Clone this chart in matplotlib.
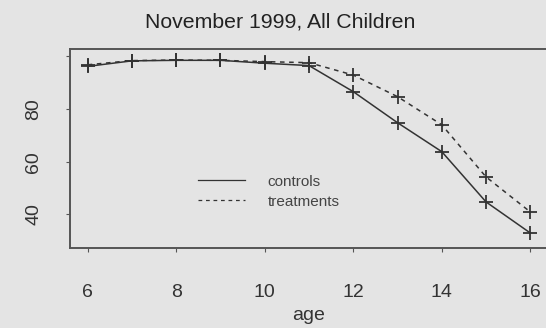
import numpy as np
import matplotlib
matplotlib.use("Agg")
import matplotlib.pyplot as plt

age = [6, 7, 8, 9, 10, 11, 12, 13, 14, 15, 16]
controls = [96.2, 98.3, 98.5, 98.5, 97.4, 96.5, 86.6, 74.8, 63.8, 44.7, 32.9]
treatments = [96.8, 98.4, 98.6, 98.5, 98.0, 97.6, 92.9, 84.7, 74.0, 54.2, 40.9]

xticks = [6, 8, 10, 12, 14, 16]
yticks = [40, 60, 80, 100]
ylabels = ["40", "60", "80", ""]

bg = "#e4e4e4"
ink = "#333333"

plt.rcParams["font.family"] = ["Liberation Sans", "DejaVu Sans"]

fig = plt.figure(figsize=(5.46, 3.28), dpi=100, facecolor=bg)
ax = fig.add_axes([70 / 546, 1 - 248 / 328, 478 / 546, 199 / 328])
ax.set_facecolor(bg)

ax.plot(age, controls, color=ink, lw=1.1, ls="-", marker="+", ms=10, mew=1.3,
        label="controls")
ax.plot(age, treatments, color=ink, lw=1.1, ls=(0, (3, 3)), marker="+", ms=10, mew=1.3,
        label="treatments")

ax.set_xlim(5.6, 16.4)
ax.set_ylim(27.2, 102.8)
ax.set_xticks(xticks)
ax.set_yticks(yticks)
ax.set_yticklabels(ylabels, rotation=90, va="center")
ax.tick_params(axis="both", direction="out", length=3, width=0.8, colors="#555555",
               labelcolor="#333333", labelsize=14)
ax.tick_params(axis="x", pad=23)
ax.tick_params(axis="y", pad=17)

for side in ["left", "bottom", "top"]:
    ax.spines[side].set_color("#555555")
    ax.spines[side].set_linewidth(1.4)
ax.spines["right"].set_visible(False)

ax.set_xlabel("age", fontsize=14, color="#333333", labelpad=4)
fig.text(280 / 546, 1 - 22 / 328, "November 1999, All Children", ha="center", va="center",
         fontsize=15.3, color="#222222")

leg = ax.legend(loc="upper left", bbox_to_anchor=(0.268, 0.369), frameon=False,
                fontsize=11, handlelength=3.1, handletextpad=1.45, labelspacing=0.4,
                borderpad=0, borderaxespad=0)
for line in leg.get_lines():
    line.set_marker("")
    line.set_linewidth(0.9)
for t in leg.get_texts():
    t.set_color("#444444")

fig.savefig("out.png", dpi=100, facecolor=bg)
